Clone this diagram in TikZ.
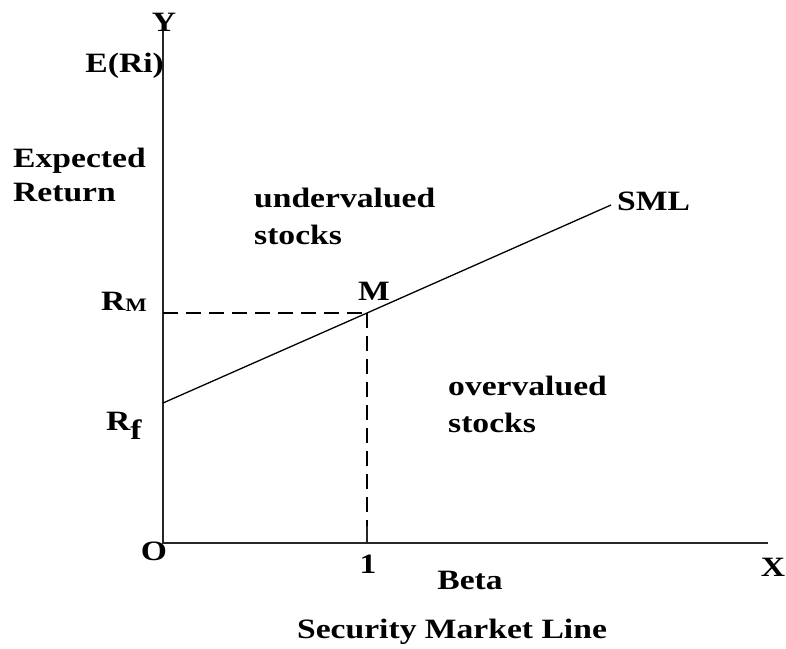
\documentclass[tikz,border=0pt]{standalone}
\usepackage{fontspec}
\setmainfont{Liberation Serif}[FakeStretch=1.2]
\tikzset{
    lbl/.style={font=\fontsize{28}{30}\selectfont\bfseries, inner sep=0pt},
    sublbl/.style={font=\fontsize{19}{20}\selectfont\bfseries, inner sep=0pt},
    axis/.style={line width=2pt, black!85},
    guide/.style={line width=1.4pt, dash pattern=on 15pt off 8pt}
}
\begin{document}
\begin{tikzpicture}[x=1pt, y=-1pt]
        \useasboundingbox (0,0) rectangle (786,648);
        % axes
        \coordinate (O)   at (163,543);
        \coordinate (Ytop) at (163,30);
        \coordinate (Xend) at (768,543);
        \draw[axis] (Ytop) -- (O) -- (Xend);
        % security market line
        \coordinate (Rf)  at (163,403);
        \coordinate (M)   at (367,313);
        \coordinate (Send) at (611,205);
        \draw[line width=1.3pt] (Rf) -- (M) -- (Send);
        % dashed reference lines
        \coordinate (RM)  at (163,313);
        \coordinate (Mdown) at (367,527);
        \draw[guide] (RM) -- (M);
        \draw[guide] (M) -- (Mdown);
        % tick mark at beta = 1
        \coordinate (tickT) at (367,526);
        \coordinate (tickB) at (367,543);
        \draw[axis] (tickT) -- (tickB);
        % axis labels
        \node[lbl] (ylab) at (164,22) {Y};
        \node[lbl, anchor=base east] (eri) at (164,72) {E(Ri)};
        \node[lbl, anchor=base west] (exp) at (13,167) {Expected};
        \node[lbl, anchor=base west] (ret) at (13,201) {Return};
        \node[lbl] (olab) at (154,551) {O};
        \node[lbl] (onelab) at (368,564) {1};
        \node[lbl] (beta) at (470,580) {Beta};
        \node[lbl] (xlab) at (773,567) {X};
        \node[lbl] (title) at (452,632) {Security Market Line};
        % rates
        \node[lbl, anchor=base west] (rm) at (101,310) {R\raisebox{-1pt}{\fontsize{19}{20}\selectfont M}};
        \node[lbl, anchor=base west] (rf) at (106,430) {R\raisebox{-9pt}{f}};
        \node[lbl, anchor=base] (mlab) at (374,300) {M};
        \node[lbl, anchor=base west] (sml) at (617,210) {SML};
        % regions
        \node[lbl, anchor=base west, align=left] (under) at (254,207) {undervalued};
        \node[lbl, anchor=base west] (under2) at (254,244) {stocks};
        \node[lbl, anchor=base west] (over) at (448,395) {overvalued};
        \node[lbl, anchor=base west] (over2) at (448,432) {stocks};
\end{tikzpicture}
\end{document}
